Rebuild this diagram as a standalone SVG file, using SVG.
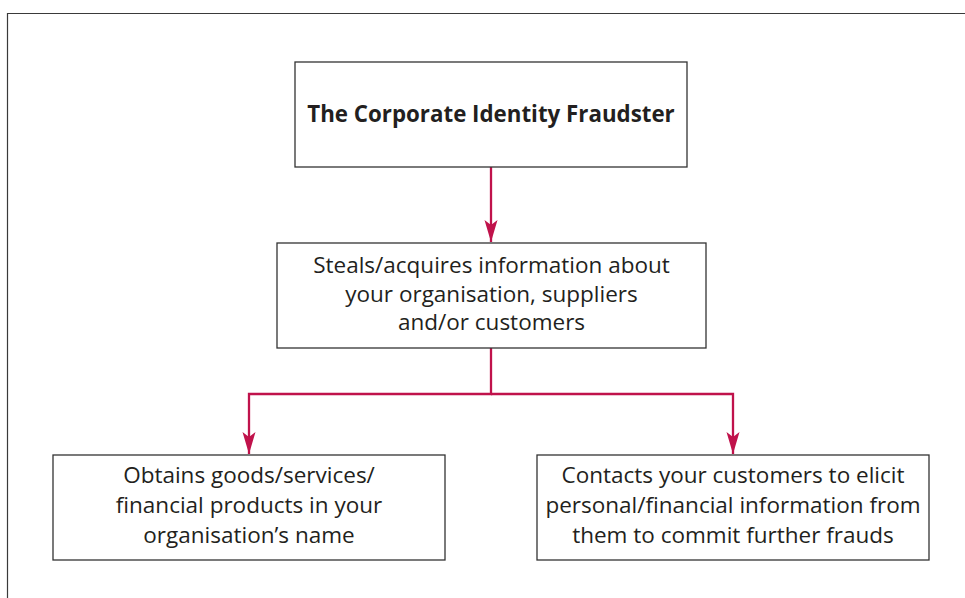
<svg xmlns="http://www.w3.org/2000/svg" width="965" height="598" viewBox="0 0 965 598">
  <style>
    .frame { fill: none; stroke: #3a3a3a; stroke-width: 1.2; }
    .box { fill: #ffffff; stroke: #333333; stroke-width: 1.3; }
    .label { font-family: "Open Sans", "Liberation Sans", sans-serif; font-size: 22.5px; fill: #231f20; text-anchor: middle; }
    .title { font-weight: bold; font-size: 22.3px; }
    .link { fill: none; stroke: #c0124b; stroke-width: 2.3; }
  </style>
  <defs>
    <marker id="arrow" markerUnits="userSpaceOnUse" viewBox="-23 -8 24 16" refX="0" refY="0" markerWidth="24" markerHeight="16" orient="auto">
      <path d="M0,0 L-22,-6.5 L-17,0 L-22,6.5 Z" fill="#c0124b"/>
    </marker>
  </defs>

  <!-- page frame -->
  <path class="frame" d="M7.5,598 V13.5 H965"/>

  <!-- connectors -->
  <g id="connectors">
    <line class="link" x1="491" y1="167" x2="491" y2="242" marker-end="url(#arrow)"/>
    <polyline class="link" points="491,348 491,394 249,394 249,454" marker-end="url(#arrow)"/>
    <polyline class="link" points="491,394 733,394 733,454" marker-end="url(#arrow)"/>
  </g>

  <g id="fraudster">
    <rect class="box" x="295" y="62" width="392" height="105"/>
    <text class="label title" x="491" y="122">The Corporate Identity Fraudster</text>
  </g>

  <g id="steals">
    <rect class="box" x="277" y="243" width="429" height="105"/>
    <text class="label" x="491.5" y="273">Steals/acquires information about</text>
    <text class="label" x="491.5" y="301.5">your organisation, suppliers</text>
    <text class="label" x="491.5" y="330">and/or customers</text>
  </g>

  <g id="obtains">
    <rect class="box" x="53" y="455" width="392" height="105"/>
    <text class="label" x="249" y="483">Obtains goods/services/</text>
    <text class="label" x="249" y="513">financial products in your</text>
    <text class="label" x="249" y="542.5">organisation’s name</text>
  </g>

  <g id="contacts">
    <rect class="box" x="537" y="455" width="392" height="105"/>
    <text class="label" x="733" y="483">Contacts your customers to elicit</text>
    <text class="label" x="733" y="513">personal/financial information from</text>
    <text class="label" x="733" y="542.5">them to commit further frauds</text>
  </g>
</svg>
